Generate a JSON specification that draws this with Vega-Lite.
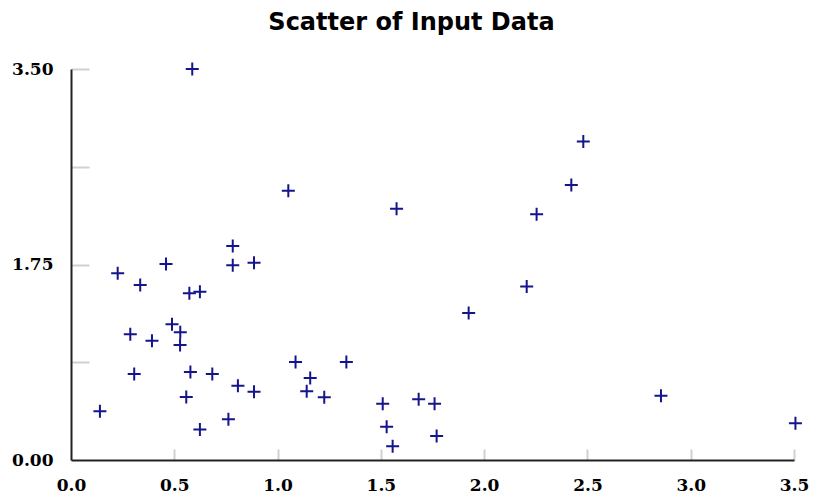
{
  "$schema": "https://vega.github.io/schema/vega-lite/v6.json",
  "width": 723,
  "height": 391,
  "autosize": "none",
  "padding": {"left": 71, "top": 69, "right": 19, "bottom": 39},
  "background": "white",
  "title": {
    "text": "Scatter of Input Data",
    "font": "DejaVu Sans",
    "fontSize": 24,
    "fontWeight": "bold",
    "color": "#000000",
    "anchor": "middle",
    "frame": "group",
    "dx": -21,
    "offset": 24
  },
  "data": {
    "values": [
      {"x": 0.587, "y": 3.5},
      {"x": 1.052, "y": 2.41},
      {"x": 0.783, "y": 1.916},
      {"x": 0.783, "y": 1.743},
      {"x": 0.886, "y": 1.766},
      {"x": 0.46, "y": 1.755},
      {"x": 0.226, "y": 1.671},
      {"x": 0.335, "y": 1.567},
      {"x": 0.573, "y": 1.492},
      {"x": 0.624, "y": 1.507},
      {"x": 0.489, "y": 1.215},
      {"x": 0.529, "y": 1.143},
      {"x": 0.287, "y": 1.125},
      {"x": 0.392, "y": 1.068},
      {"x": 0.528, "y": 1.03},
      {"x": 1.087, "y": 0.877},
      {"x": 0.306, "y": 0.77},
      {"x": 0.578, "y": 0.788},
      {"x": 0.684, "y": 0.77},
      {"x": 0.808, "y": 0.665},
      {"x": 0.886, "y": 0.612},
      {"x": 0.558, "y": 0.564},
      {"x": 0.14, "y": 0.436},
      {"x": 0.762, "y": 0.364},
      {"x": 0.624, "y": 0.272},
      {"x": 1.576, "y": 2.25},
      {"x": 2.254, "y": 2.2},
      {"x": 2.206, "y": 1.552},
      {"x": 1.925, "y": 1.316},
      {"x": 1.333, "y": 0.877},
      {"x": 1.158, "y": 0.734},
      {"x": 1.141, "y": 0.615},
      {"x": 1.226, "y": 0.561},
      {"x": 1.509, "y": 0.504},
      {"x": 1.683, "y": 0.543},
      {"x": 1.76, "y": 0.504},
      {"x": 1.528, "y": 0.298},
      {"x": 1.77, "y": 0.215},
      {"x": 1.557, "y": 0.123},
      {"x": 2.48, "y": 2.85},
      {"x": 2.422, "y": 2.462},
      {"x": 2.856, "y": 0.576},
      {"x": 3.507, "y": 0.328}
    ]
  },
  "layer": [
    {
      "mark": {
        "type": "point",
        "shape": "M-1,0H1M0,-1V1",
        "filled": false,
        "opacity": 0,
        "clip": false
      },
      "encoding": {
        "x": {
          "field": "x",
          "type": "quantitative",
          "scale": {"domain": [0, 3.5], "nice": false, "zero": false},
          "axis": {
            "title": null,
            "orient": "top",
            "offset": -391,
            "values": [0.5, 1, 1.5, 2, 2.5, 3, 3.5],
            "grid": false,
            "domain": false,
            "labels": false,
            "ticks": true,
            "tickColor": "#d0d0d0",
            "tickWidth": 2,
            "tickSize": 11
          }
        },
        "y": {
          "field": "y",
          "type": "quantitative",
          "scale": {"domain": [0, 3.5], "nice": false, "zero": false},
          "axis": {
            "title": null,
            "orient": "right",
            "offset": -723,
            "values": [0.875, 1.75, 2.625, 3.5],
            "grid": false,
            "domain": false,
            "labels": false,
            "ticks": true,
            "tickColor": "#d0d0d0",
            "tickWidth": 2,
            "tickSize": 18
          }
        }
      }
    },
    {
      "mark": {
        "type": "point",
        "shape": "M-1,0H1M0,-1V1",
        "filled": false,
        "size": 169,
        "strokeWidth": 2,
        "color": "#14148c",
        "opacity": 1,
        "clip": false
      },
      "encoding": {
        "x": {
          "field": "x",
          "type": "quantitative",
          "scale": {"domain": [0, 3.5], "nice": false, "zero": false},
          "axis": {
            "title": null,
            "values": [0, 0.5, 1, 1.5, 2, 2.5, 3, 3.5],
            "format": ".1f",
            "grid": false,
            "domainColor": "#222222",
            "domainWidth": 2,
            "ticks": true,
            "tickSize": 0,
            "labelPadding": 17,
            "labelFont": "DejaVu Serif",
            "labelFontWeight": "bold",
            "labelFontSize": 17,
            "labelColor": "#000000",
            "labelFlush": false,
            "labelOverlap": false
          }
        },
        "y": {
          "field": "y",
          "type": "quantitative",
          "scale": {"domain": [0, 3.5], "nice": false, "zero": false},
          "axis": {
            "title": null,
            "values": [0, 1.75, 3.5],
            "format": ".2f",
            "grid": false,
            "domainColor": "#222222",
            "domainWidth": 2,
            "ticks": true,
            "tickSize": 0,
            "labelPadding": 18,
            "labelFont": "DejaVu Serif",
            "labelFontWeight": "bold",
            "labelFontSize": 17,
            "labelColor": "#000000",
            "labelFlush": false,
            "labelOverlap": false
          }
        }
      }
    }
  ],
  "resolve": {"axis": {"x": "independent", "y": "independent"}},
  "config": {"view": {"stroke": null}}
}
